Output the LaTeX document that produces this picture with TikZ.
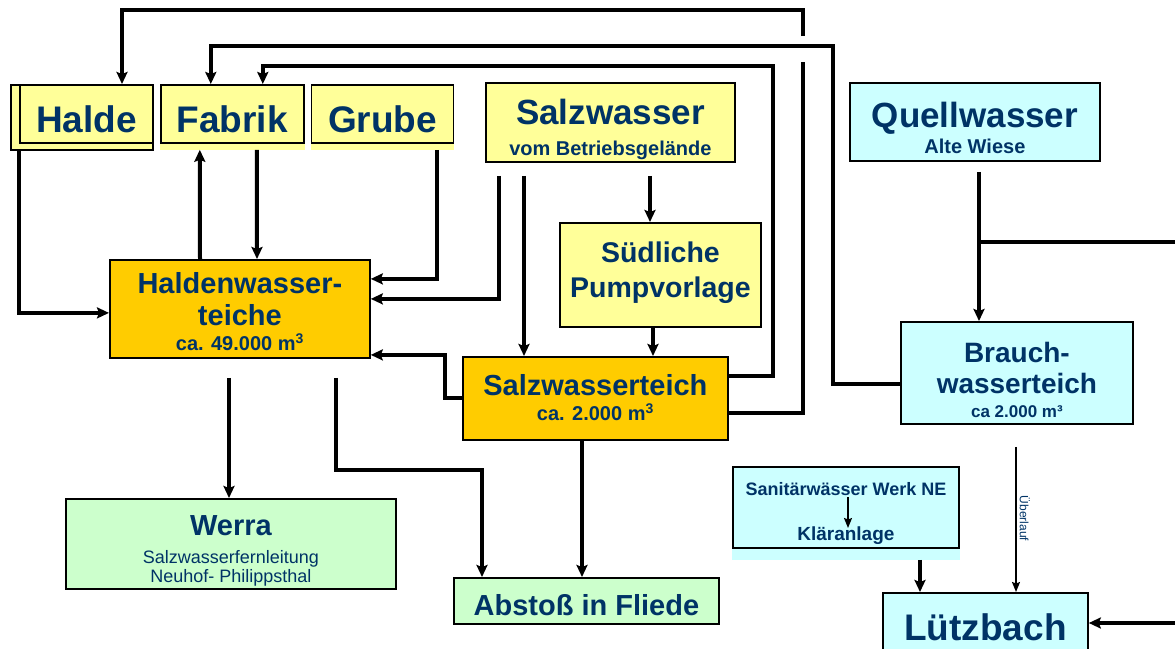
\documentclass[tikz,border=0pt]{standalone}
\usepackage{fontspec}
\setmainfont{Liberation Sans}
\usetikzlibrary{arrows.meta,positioning,backgrounds}

\definecolor{gelb}{RGB}{255,255,153}
\definecolor{teichgelb}{RGB}{255,204,0}
\definecolor{hellblau}{RGB}{204,255,255}
\definecolor{hellgruen}{RGB}{204,255,204}
\definecolor{schrift}{RGB}{0,51,102}

\begin{document}
\begin{tikzpicture}[
    x=1pt, y=-1pt,
    box/.style={rectangle, draw, line width=1.8pt, inner sep=1pt, text=schrift, font=\bfseries, align=center},
    quelle/.style={box, fill=gelb},
    teich/.style={box, fill=teichgelb},
    frisch/.style={box, fill=hellblau},
    ziel/.style={box, fill=hellgruen},
    bigtext/.style={font=\bfseries\fontsize{37}{40}\selectfont, text height=38pt, text depth=0pt},
    pipe/.style={line width=4pt},
    arrow/.style={pipe, -{Stealth[length=12pt,width=11pt,inset=2pt]}},
    thinarrow/.style={line width=1.5pt, -{Stealth[length=10pt,width=8pt,inset=1.5pt]}}
]
    \useasboundingbox (0,0) rectangle (1175,648);

    \node[quelle, bigtext, anchor=north west, minimum width=133pt, minimum height=58pt] (halde) at (19,84) {Halde};
    \node[quelle, bigtext, minimum width=143pt, minimum height=58pt, right=6pt of halde] (fabrik) {Fabrik};
    \node[quelle, bigtext, minimum width=142pt, minimum height=58pt, right=6pt of fabrik] (grube) {Grube};
    \node[quelle, anchor=north west, minimum width=249pt, minimum height=79pt, text height=67pt, text depth=0pt,
          font=\bfseries\fontsize{20}{31}\selectfont] (salzw) at (485,82)
          {{\fontsize{35}{35}\selectfont Salzwasser}\\vom Betriebsgelände};
    \node[frisch, anchor=north west, minimum width=250pt, minimum height=78pt, text height=64pt, text depth=0pt,
          font=\bfseries\fontsize{20}{26}\selectfont] (quell) at (849,82)
          {{\fontsize{35}{35}\selectfont Quellwasser}\\Alte Wiese};
    \node[quelle, anchor=north west, minimum width=201pt, minimum height=104pt, text height=46pt, text depth=0pt,
          font=\bfseries\fontsize{28.5}{35}\selectfont] (pump) at (559,222)
          {Südliche\\Pumpvorlage};
    \node[teich, anchor=north west, minimum width=260pt, minimum height=98pt, text height=84pt, text depth=0pt,
          font=\bfseries\fontsize{29}{32}\selectfont] (hwt) at (109,259)
          {Haldenwasser-\\teiche\\[-7pt]{\fontsize{20}{24}\selectfont ca. 49.000 m\textsuperscript{3}}};
    \node[teich, anchor=north west, minimum width=265pt, minimum height=83pt, text height=45pt, text depth=0pt,
          font=\bfseries\fontsize{20}{25}\selectfont] (steich) at (462,356)
          {{\fontsize{29}{29}\selectfont Salzwasserteich}\\ca. 2.000 m\textsuperscript{3}};
    \node[frisch, anchor=north west, minimum width=232pt, minimum height=102pt, text height=90pt, text depth=0pt,
          font=\bfseries\fontsize{28}{31}\selectfont] (brauch) at (900,321)
          {Brauch-\\wasserteich\\[-7pt]{\fontsize{17}{20}\selectfont ca 2.000 m³}};
    \node[frisch, anchor=north west, minimum width=226pt, minimum height=81pt, text height=67pt, text depth=0pt,
          font=\bfseries\fontsize{18}{45}\selectfont] (sanitaer) at (732,466)
          {Sanitärwässer Werk NE\\{\fontsize{19}{19}\selectfont Kläranlage}};
    \node[ziel, anchor=north west, minimum width=330pt, minimum height=90pt, text height=78pt, text depth=0pt,
          font=\fontsize{18}{19.5}\selectfont] (werra) at (65,498)
          {{\bfseries\fontsize{29}{29}\selectfont Werra}\\[8.5pt]Salzwasserfernleitung\\Neuhof- Philippsthal};
    \node[ziel, anchor=north west, minimum width=265pt, minimum height=46pt, text height=30pt, text depth=0pt,
          font=\bfseries\fontsize{29}{32}\selectfont] (abstoss) at (453,577) {Abstoß in Fliede};
    \node[frisch, anchor=north west, minimum width=205pt, minimum height=69pt, text height=27pt, text depth=0pt,
          font=\bfseries\fontsize{37}{40}\selectfont] (luetz) at (882,592) {Lützbach};

    \begin{scope}[on background layer]
        \filldraw[fill=gelb, line width=1.8pt] ([xshift=-8pt,yshift=-0.9pt]halde.north west) rectangle ([xshift=-0.9pt,yshift=-6pt]halde.south east);
        \fill[gelb] (fabrik.south west) rectangle ([yshift=-6pt]fabrik.south east);
        \fill[gelb] (grube.south west) rectangle ([yshift=-6pt]grube.south east);
        \fill[hellblau] (sanitaer.south west) rectangle ([yshift=-11pt]sanitaer.south east);
    \end{scope}

    \coordinate (ring1) at (803,10);
    \coordinate (ring2) at (833,46);
    \coordinate (ring3) at (773,66);
    \coordinate (abzweig) at ([xshift=130pt,yshift=-80pt]quell.south west);
    \coordinate (rand1) at (1175,240);
    \coordinate (rand2) at (1175,623);

    \draw[arrow, shorten <=6pt] (halde.south west) |- ([yshift=-4pt]hwt.west);
    \draw[arrow] ([xshift=91pt]hwt.north west) -- ([xshift=40pt,yshift=-6pt]fabrik.south west);
    \draw[arrow] ([xshift=97pt,yshift=-6pt]fabrik.south west) -- ([xshift=148pt]hwt.north west);
    \draw[arrow] ([xshift=126pt,yshift=-6pt]grube.south west) |- ([yshift=30pt]hwt.east);
    \draw[arrow, shorten <=13pt] ([xshift=14pt]salzw.south west) |- ([yshift=10pt]hwt.east);
    \draw[arrow, shorten <=13pt] ([xshift=39pt]salzw.south west) -- ([xshift=62pt]steich.north west);
    \draw[arrow, shorten <=13pt] ([xshift=165pt]salzw.south west) -- ([xshift=91pt]pump.north west);
    \draw[arrow] ([xshift=94pt]pump.south west) -- ([xshift=191pt]steich.north west);
    \draw[arrow] (steich.west) -- ++(-17,0) |- ([yshift=-46pt]hwt.east);
    \draw[arrow, shorten <=19pt] ([xshift=120pt]hwt.south west) -- ([xshift=164pt]werra.north west);
    \draw[arrow, shorten <=19pt] ([xshift=227pt]hwt.south west) |- ([xshift=29pt,yshift=107pt]abstoss.north west)
        -- ([xshift=29pt]abstoss.north west);
    \draw[arrow] ([xshift=120pt]steich.south west) -- ([xshift=129pt]abstoss.north west);

    \draw[pipe] ([yshift=-15pt]steich.east) -| ([yshift=-52pt]ring1);
    \draw[arrow] ([yshift=-26pt]ring1) -- (ring1) -| ([xshift=103pt]halde.north west);
    \draw[arrow] ([yshift=-11pt]brauch.west) -| (ring2) -| ([xshift=51pt]fabrik.north west);
    \draw[arrow] ([yshift=22pt]steich.east) -| (ring3) -| ([xshift=103pt]fabrik.north west);

    \draw[arrow, shorten <=10pt] ([xshift=130pt]quell.south west) -- ([xshift=79pt]brauch.north west);
    \draw[pipe] (abzweig) -- (abzweig -| rand1);
    \draw[arrow] (rand2) -- (luetz.east |- rand2);
    \draw[arrow, shorten <=11pt] ([xshift=188pt]sanitaer.south west) -- ([xshift=38pt]luetz.north west);
    \draw[thinarrow, shorten <=22pt] ([xshift=116pt]brauch.south west) --
        node[pos=0.56, anchor=south, rotate=-90, inner sep=3pt, text=schrift, font=\fontsize{12}{14}\selectfont] {Überlauf}
        ([xshift=134pt]luetz.north west);
    \draw[thinarrow] ([xshift=116pt,yshift=-31pt]sanitaer.north west) -- ([xshift=116pt,yshift=-62pt]sanitaer.north west);
\end{tikzpicture}
\end{document}
